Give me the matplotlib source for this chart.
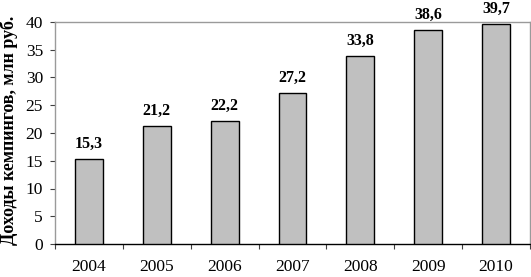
import matplotlib
matplotlib.use("Agg")
import matplotlib.pyplot as plt
import numpy as np

# ------------------------ Data ------------------------
years = ["2004", "2005", "2006", "2007", "2008", "2009", "2010"]
income = [15.3, 21.2, 22.2, 27.2, 33.8, 38.6, 39.7]
y_label = "Доходы кемпингов, млн руб."

plt.rcParams['font.family'] = ['Liberation Serif', 'DejaVu Serif']

fig = plt.figure(figsize=(5.31, 2.77), dpi=100)
ax = fig.add_axes([55 / 531, 33 / 277, 475 / 531, 222 / 277])

x = np.arange(len(years))
ax.bar(x, income, width=0.41, color="#c0c0c0", edgecolor="black", linewidth=1.0, zorder=3)

# value labels above bars
for xi, v in zip(x, income):
    ax.annotate(f"{v:.1f}".replace(".", ","), (xi, v), xytext=(0, 8), textcoords="offset points",
                ha="center", va="baseline", fontsize=11.5, fontweight="bold", annotation_clip=False)

ax.set_xlim(-0.5, len(years) - 0.5)
ax.set_ylim(0, 40)
ax.set_yticks(range(0, 41, 5))
ax.tick_params(axis='y', labelsize=12.5, length=3.6, width=0.8, color="#404040", pad=5)

ax.set_xticks(x)
ax.set_xticklabels(years)
ax.set_xticks(np.arange(-0.5, len(years), 1.0), minor=True)
ax.tick_params(axis='x', which='major', length=0, labelsize=12.5, pad=11)
ax.tick_params(axis='x', which='minor', length=3.6, width=0.8, color="#404040")

for side in ["left", "top", "right"]:
    ax.spines[side].set_color("#9a9a9a")
    ax.spines[side].set_linewidth(1.0)
ax.spines["bottom"].set_color("black")
ax.spines["bottom"].set_linewidth(1.0)

ax.set_ylabel(y_label, fontsize=13, fontweight="bold")
ax.yaxis.set_label_coords(-0.078, 0.51)

fig.savefig("out.png", dpi=100)
